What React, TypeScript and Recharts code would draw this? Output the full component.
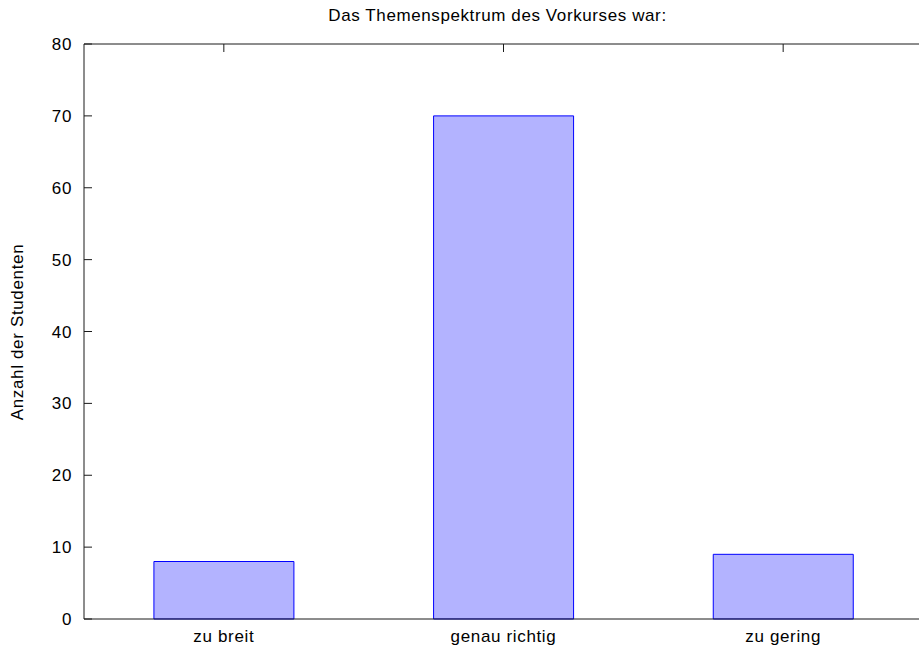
import { BarChart, Bar, XAxis, YAxis } from "recharts";

const categories = ["zu breit", "genau richtig", "zu gering"];
const studentCounts = [8, 70, 9];
const yTicks = [0, 10, 20, 30, 40, 50, 60, 70, 80];

const title = "Das Themenspektrum des Vorkurses war:";
const yLabel = "Anzahl der Studenten";

const data = categories.map((name, i) => ({ name, count: studentCounts[i] }));

const font = "'Liberation Sans', Arial, Helvetica, sans-serif";
const axisStroke = { stroke: "#1a1a1a", strokeWidth: 1 };
const tickStyle = { fill: "#000", fontSize: 17, fontFamily: font, letterSpacing: 0.65 };
const blank = () => "";

export default function App() {
  return (
    <div
      style={{
        position: "absolute",
        left: 0,
        top: 0,
        width: 919,
        height: 651,
        overflow: "hidden",
        background: "#fff",
        fontFamily: font,
      }}
    >
      <div
        style={{
          position: "absolute",
          left: 78,
          width: 839,
          top: 5,
          textAlign: "center",
          fontSize: 17,
          letterSpacing: 0.6,
          lineHeight: "22px",
          color: "#000",
        }}
      >
        {title}
      </div>
      <div
        style={{
          position: "absolute",
          left: 18,
          top: 332,
          transform: "translate(-50%, -50%) rotate(-90deg)",
          whiteSpace: "nowrap",
          fontSize: 17,
          letterSpacing: 0.65,
          lineHeight: "22px",
          color: "#000",
        }}
      >
        {yLabel}
      </div>
      <BarChart
        width={940}
        height={651}
        data={data}
        margin={{ top: 0, right: 0, bottom: 0, left: 0 }}
        barCategoryGap="25%"
        style={{ position: "absolute", left: 0, top: 0 }}
      >
        <XAxis
          xAxisId="b"
          dataKey="name"
          orientation="bottom"
          height={32}
          interval={0}
          tickLine={false}
          tickSize={0}
          tickMargin={11}
          axisLine={axisStroke}
          tick={tickStyle}
        />
        <XAxis
          xAxisId="t"
          dataKey="name"
          orientation="top"
          height={44}
          interval={0}
          tickSize={-8}
          tickLine={axisStroke}
          tickFormatter={blank}
          axisLine={axisStroke}
        />
        <YAxis
          yAxisId="l"
          width={84}
          domain={[0, 80]}
          ticks={yTicks}
          interval={0}
          tickSize={-8}
          tickMargin={20}
          tickLine={axisStroke}
          axisLine={axisStroke}
          tick={tickStyle}
        />
        <YAxis
          yAxisId="r"
          orientation="right"
          width={17}
          domain={[0, 80]}
          ticks={yTicks}
          interval={0}
          tickSize={-8}
          tickLine={axisStroke}
          tickFormatter={blank}
          axisLine={axisStroke}
        />
        <Bar
          xAxisId="b"
          yAxisId="l"
          dataKey="count"
          fill="#b3b3ff"
          stroke="#0000ff"
          strokeWidth={1}
          isAnimationActive={false}
        />
      </BarChart>
    </div>
  );
}
